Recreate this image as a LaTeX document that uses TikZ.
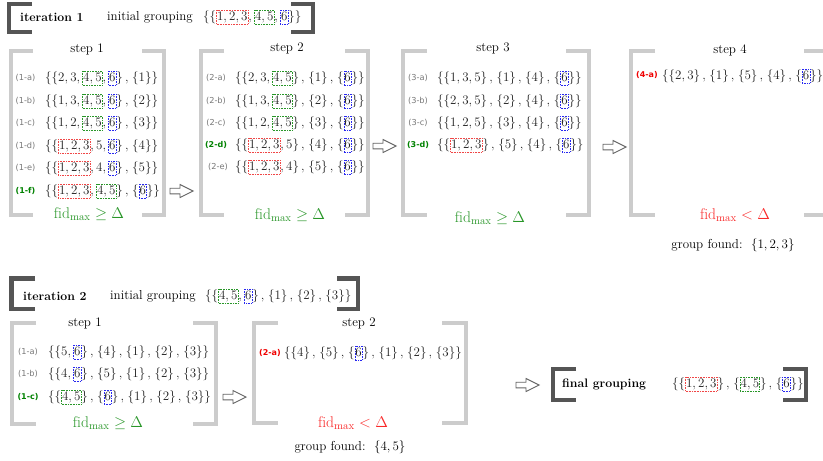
\RequirePackage{fix-cm}
\documentclass[tikz,border=0pt]{standalone}
\usepackage{fontspec}
\newfontfamily\lblfont{DejaVu Sans}
\definecolor{boxred}{RGB}{240,70,70}
\definecolor{boxgreen}{RGB}{40,150,40}
\definecolor{boxblue}{RGB}{40,40,240}
\definecolor{fidgreen}{RGB}{40,150,40}
\definecolor{fidred}{RGB}{250,40,40}
\definecolor{lblgray}{RGB}{120,120,120}
\definecolor{lblgreen}{RGB}{0,130,0}
\definecolor{lblred}{RGB}{240,0,0}
\definecolor{brlight}{RGB}{204,204,204}
\definecolor{brdark}{RGB}{85,85,85}
\definecolor{arrcol}{RGB}{100,100,100}
\definecolor{setcol}{RGB}{30,30,30}
\newcommand\gbx[2]{\tikz[baseline]\node[anchor=base,draw=#1,densely dotted,line width=0.6pt,inner xsep=0.6pt,inner ysep=1pt,text height=9pt,text depth=2.6pt,font=\fontsize{13}{15}\selectfont]{$#2$};}
\newcommand\redb{\gbx{boxred}}
\newcommand\grnb{\gbx{boxgreen}}
\newcommand\blub{\gbx{boxblue}}
\newcommand\sep{\,,\mkern2mu}
\tikzset{
  txt/.style={font=\fontsize{13}{15}\selectfont, inner sep=0pt, text=setcol},
  ttl/.style={font=\fontsize{13}{15}\selectfont, inner sep=0pt},
  bttl/.style={font=\fontsize{12.3}{14}\selectfont\bfseries, inner sep=0pt},
  lbl/.style={font=\fontsize{8.2}{9}\lblfont, inner sep=0pt, text=lblgray},
  lblg/.style={font=\fontsize{8}{9}\lblfont\bfseries, inner sep=0pt, text=lblgreen},
  lblr/.style={font=\fontsize{8}{9}\lblfont\bfseries, inner sep=0pt, text=lblred},
  fidg/.style={font=\fontsize{15.5}{18}\selectfont, inner sep=0pt, text=fidgreen},
  fidr/.style={font=\fontsize{15.5}{18}\selectfont, inner sep=0pt, text=fidred},
  lbr/.style={draw=brlight, line width=4pt},
  dbr/.style={draw=brdark, line width=4.5pt},
  harrow/.pic={\draw[arrcol, line width=0.9pt, fill=white] (0,-2.8) -- (10,-2.8) -- (10,-6.5) -- (23,0) -- (10,6.5) -- (10,2.8) -- (0,2.8) -- cycle;}
}
\begin{document}
\begin{tikzpicture}[x=1pt,y=-1pt]
\useasboundingbox[fill=white] (0,0) rectangle (823,461);

% ---------- iteration 1 header ----------
\draw[dbr] (32,4) -- (9,4) -- (9,32) -- (32,32);
\draw[dbr] (291,4) -- (313,4) -- (313,32) -- (291,32);
\node[bttl, anchor=west] (it1) at (20,17) {iteration 1};
\node[ttl, anchor=west] (ig1) at (107,17) {initial grouping};
\node[txt, anchor=west] (ig1set) at (203,17) {$\{\{\redb{1,2,3},\grnb{4,5},\blub{6}\}\}$};

% ---------- step 1 ----------
\draw[lbr] (33,50.5) -- (10.5,50.5) -- (10.5,215) -- (33,215);
\draw[lbr] (142,50.5) -- (164,50.5) -- (164,215) -- (142,215);
\node[ttl] (s1t) at (87,49) {step 1};
\node[lbl] (l1a) at (25.5,78) {(1-a)};
\node[lbl] (l1b) at (25.5,101) {(1-b)};
\node[lbl] (l1c) at (25.5,123) {(1-c)};
\node[lbl] (l1d) at (25.5,146) {(1-d)};
\node[lbl] (l1e) at (25.5,168) {(1-e)};
\node[lblg] (l1f) at (25.5,191) {(1-f)};
\node[txt, anchor=west] (r1a) at (45,78) {$\{\{2,3,\grnb{4,5},\blub{6}\}\sep\{1\}\}$};
\node[txt, anchor=west] (r1b) at (45,101) {$\{\{1,3,\grnb{4,5},\blub{6}\}\sep\{2\}\}$};
\node[txt, anchor=west] (r1c) at (45,123) {$\{\{1,2,\grnb{4,5},\blub{6}\}\sep\{3\}\}$};
\node[txt, anchor=west] (r1d) at (45,146) {$\{\{\redb{1,2,3},5,\blub{6}\}\sep\{4\}\}$};
\node[txt, anchor=west] (r1e) at (45,168) {$\{\{\redb{1,2,3},4,\blub{6}\}\sep\{5\}\}$};
\node[txt, anchor=west] (r1f) at (45,191) {$\{\{\redb{1,2,3},\grnb{4,5}\}\sep\{\blub{6}\}\}$};
\node[fidg] (f1) at (89,214) {$\mathrm{fid}_{\max}\geq\Delta$};
\pic at (170,191) {harrow};

% ---------- step 2 ----------
\draw[lbr] (224,50.5) -- (201,50.5) -- (201,215) -- (224,215);
\draw[lbr] (345,50.5) -- (368,50.5) -- (368,215) -- (345,215);
\node[ttl] (s2t) at (287,48) {step 2};
\node[lbl] (l2a) at (216,78) {(2-a)};
\node[lbl] (l2b) at (216,101) {(2-b)};
\node[lbl] (l2c) at (216,123) {(2-c)};
\node[lblg] (l2d) at (216,145) {(2-d)};
\node[lbl] (l2e) at (218,167) {(2-e)};
\node[txt, anchor=west] (r2a) at (235,78) {$\{\{2,3,\grnb{4,5}\}\sep\{1\}\sep\{\blub{6}\}\}$};
\node[txt, anchor=west] (r2b) at (235,101) {$\{\{1,3,\grnb{4,5}\}\sep\{2\}\sep\{\blub{6}\}\}$};
\node[txt, anchor=west] (r2c) at (235,123) {$\{\{1,2,\grnb{4,5}\}\sep\{3\}\sep\{\blub{6}\}\}$};
\node[txt, anchor=west] (r2d) at (235,145) {$\{\{\redb{1,2,3},5\}\sep\{4\}\sep\{\blub{6}\}\}$};
\node[txt, anchor=west] (r2e) at (235,167) {$\{\{\redb{1,2,3},4\}\sep\{5\}\sep\{\blub{6}\}\}$};
\node[fidg] (f2) at (290,215) {$\mathrm{fid}_{\max}\geq\Delta$};
\pic at (373,146) {harrow};

% ---------- step 3 ----------
\draw[lbr] (427,50.5) -- (403,50.5) -- (403,215) -- (427,215);
\draw[lbr] (566,50.5) -- (589,50.5) -- (589,215) -- (566,215);
\node[ttl] (s3t) at (493,48) {step 3};
\node[lbl] (l3a) at (418,78) {(3-a)};
\node[lbl] (l3b) at (418,101) {(3-b)};
\node[lbl] (l3c) at (418,123) {(3-c)};
\node[lblg] (l3d) at (418,145) {(3-d)};
\node[txt, anchor=west] (r3a) at (437,78) {$\{\{1,3,5\}\sep\{1\}\sep\{4\}\sep\{\blub{6}\}\}$};
\node[txt, anchor=west] (r3b) at (437,101) {$\{\{2,3,5\}\sep\{2\}\sep\{4\}\sep\{\blub{6}\}\}$};
\node[txt, anchor=west] (r3c) at (437,123) {$\{\{1,2,5\}\sep\{3\}\sep\{4\}\sep\{\blub{6}\}\}$};
\node[txt, anchor=west] (r3d) at (437,145) {$\{\{\redb{1,2,3}\}\sep\{5\}\sep\{4\}\sep\{\blub{6}\}\}$};
\node[fidg] (f3) at (490,218) {$\mathrm{fid}_{\max}\geq\Delta$};
\pic at (603,147) {harrow};

% ---------- step 4 ----------
\draw[lbr] (655,51) -- (631,51) -- (631,215) -- (655,215);
\draw[lbr] (804,51) -- (828,51) -- (828,215) -- (804,215);
\node[ttl] (s4t) at (730,50) {step 4};
\node[lblr] (l4a) at (647,75) {(4-a)};
\node[txt, anchor=west] (r4a) at (662,76) {$\{\{2,3\}\sep\{1\}\sep\{5\}\sep\{4\}\sep\{\blub{6}\}\}$};
\node[fidr] (f4) at (735,215) {$\mathrm{fid}_{\max}<\Delta$};
\node[ttl] (g1) at (733,245) {group found:\ \ $\{1,2,3\}$};

% ---------- iteration 2 header ----------
\draw[dbr] (35,278.5) -- (11.5,278.5) -- (11.5,309) -- (35,309);
\draw[dbr] (337,278.5) -- (358,278.5) -- (358,309) -- (337,309);
\node[bttl, anchor=west] (it2) at (23,296) {iteration 2};
\node[ttl, anchor=west] (ig2) at (110,296) {initial grouping};
\node[txt, anchor=west] (ig2set) at (205,296) {$\{\{\grnb{4,5},\blub{6}\}\sep\{1\}\sep\{2\}\sep\{3\}\}$};

% ---------- iteration 2, step 1 ----------
\draw[lbr] (36,323) -- (12,323) -- (12,424) -- (36,424);
\draw[lbr] (193,323) -- (216,323) -- (216,424) -- (193,424);
\node[ttl] (t1t) at (85,323) {step 1};
\node[lbl] (m1a) at (28,352) {(1-a)};
\node[lbl] (m1b) at (28,374) {(1-b)};
\node[lblg] (m1c) at (28,397) {(1-c)};
\node[txt, anchor=west] (q1a) at (48,352) {$\{\{5,\blub{6}\}\sep\{4\}\sep\{1\}\sep\{2\}\sep\{3\}\}$};
\node[txt, anchor=west] (q1b) at (48,374) {$\{\{4,\blub{6}\}\sep\{5\}\sep\{1\}\sep\{2\}\sep\{3\}\}$};
\node[txt, anchor=west] (q1c) at (48,397) {$\{\{\grnb{4,5}\}\sep\{\blub{6}\}\sep\{1\}\sep\{2\}\sep\{3\}\}$};
\node[fidg] (g1f) at (108,423) {$\mathrm{fid}_{\max}\geq\Delta$};
\pic at (223,397) {harrow};

% ---------- iteration 2, step 2 ----------
\draw[lbr] (278,323) -- (254,323) -- (254,423) -- (278,423);
\draw[lbr] (442,323) -- (466,323) -- (466,423) -- (442,423);
\node[ttl] (t2t) at (359,323) {step 2};
\node[lblr] (m2a) at (270,353) {(2-a)};
\node[txt, anchor=west] (q2a) at (284,353) {$\{\{4\}\sep\{5\}\sep\{\blub{6}\}\sep\{1\}\sep\{2\}\sep\{3\}\}$};
\node[fidr] (g2f) at (353,423) {$\mathrm{fid}_{\max}<\Delta$};
\node[ttl] (g2) at (350,447) {group found:\ \ $\{4,5\}$};

% ---------- final grouping ----------
\pic at (516,385) {harrow};
\draw[dbr] (576,369) -- (553,369) -- (553,400) -- (576,400);
\draw[dbr] (783,369) -- (806,369) -- (806,400) -- (783,400);
\node[bttl, anchor=west] (fg) at (562,384) {final grouping};
\node[txt, anchor=west] (fgset) at (672,384) {$\{\{\redb{1,2,3}\}\sep\{\grnb{4,5}\}\sep\{\blub{6}\}\}$};
\end{tikzpicture}
\end{document}
